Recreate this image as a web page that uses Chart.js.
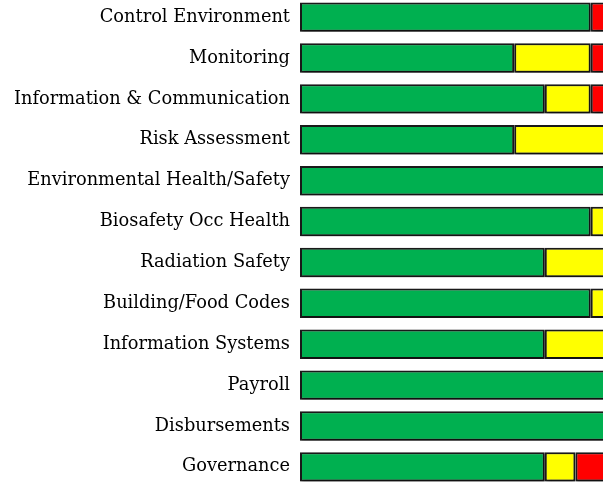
<!DOCTYPE html>
<html>
<head>
<meta charset="utf-8">
<script src="https://cdn.jsdelivr.net/npm/chart.js@4.4.0/dist/chart.umd.min.js"></script>
<style>
  html, body { margin:0; padding:0; background:#fff; overflow:hidden; }
  /* canvas a bit taller than the window: the tick labels reserve half a line top and bottom */
  #wrap { position:absolute; left:0; top:-16px; width:606px; height:516px; }
</style>
</head>
<body>
<div id="wrap"><canvas id="chart"></canvas></div>
<script>
'use strict';

// Areas reviewed, top to bottom
const categories = [
  'Control Environment', 'Monitoring', 'Information & Communication', 'Risk Assessment',
  'Environmental Health/Safety', 'Biosafety Occ Health', 'Radiation Safety',
  'Building/Food Codes', 'Information Systems', 'Payroll', 'Disbursements', 'Governance'
];

// counts per rating (out of 20)
const greenVals  = [19, 14, 16, 14, 20, 19, 16, 19, 16, 20, 20, 16];
const yellowVals = [ 0,  5,  3,  6,  0,  1,  4,  1,  4,  0,  0,  2];
const redVals    = [ 1,  1,  1,  0,  0,  0,  0,  0,  0,  0,  0,  2];

const AXIS_MAX = 20;

// soft drop shadow under the bars
const shadowPlugin = {
  id: 'barShadow',
  beforeDatasetsDraw(chart) {
    const ctx = chart.ctx;
    ctx.save();
    ctx.shadowColor = 'rgba(0,0,0,0.45)';
    ctx.shadowBlur = 3;
    ctx.shadowOffsetX = 1;
    ctx.shadowOffsetY = 2;
  },
  afterDatasetsDraw(chart) {
    chart.ctx.restore();
  }
};

function seg(label, data, colour) {
  return {
    label, data,
    backgroundColor: colour,
    borderColor: '#1a1a1a',
    borderWidth: 2,
    borderSkipped: false,
    barPercentage: 0.72,
    categoryPercentage: 1
  };
}

new Chart(document.getElementById('chart'), {
  type: 'bar',
  data: {
    labels: categories,
    datasets: [
      seg('Green',  greenVals,  '#00B050'),
      seg('Yellow', yellowVals, '#FFFF00'),
      seg('Red',    redVals,    '#FF0000')
    ]
  },
  options: {
    indexAxis: 'y',
    responsive: true,
    maintainAspectRatio: false,
    animation: false,
    layout: { padding: 0 },
    plugins: { legend: { display:false }, tooltip: { enabled:false } },
    scales: {
      x: { stacked:true, min:0, max:AXIS_MAX, display:false },
      y: {
        stacked: true,
        grid: { display:false, tickLength:8 },
        border: { display:false },
        ticks: {
          color: '#000',
          padding: 2,
          font: { family:'"DejaVu Serif", serif', size:17.8 }
        },
        afterFit(scale) { scale.width = 300; }
      }
    }
  },
  plugins: [shadowPlugin]
});
</script>
</body>
</html>
